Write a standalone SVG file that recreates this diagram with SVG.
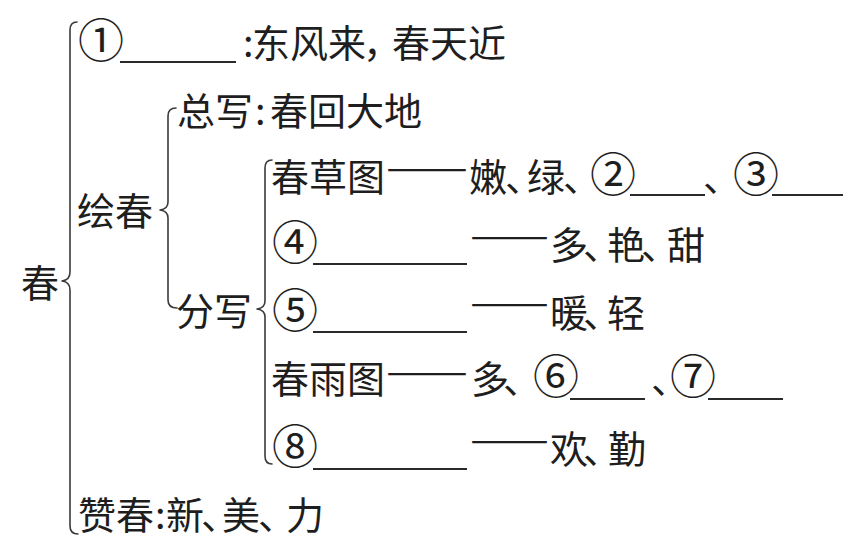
<svg xmlns="http://www.w3.org/2000/svg" width="848" height="552" viewBox="0 0 848 552">
<style>
text{font-family:"Noto Sans CJK SC","Noto Sans CJK JP",sans-serif;font-size:38px;fill:#1e1e1e}
.c{font-size:46px}
.p{font-feature-settings:"halt"}
.br{fill:none;stroke:#3a3a3a;stroke-width:1.6;stroke-linecap:round;stroke-linejoin:round}
.ul{stroke:#2a2a2a;stroke-width:1.8}
</style>
<rect width="848" height="552" fill="#fff"/>
<g id="connectors">
<path class="br" d="M77,22 Q70,22 70,30 L70,272 Q70,280 62,281 Q70,282 70,290 L70,526 Q70,534 78,534"/>
<path class="br" d="M176,108 Q168,108 168,116 L168,202 Q168,209 160,210 Q168,211 168,218 L168,300 Q168,308 177,308"/>
<path class="br" d="M272,160 Q265,160 265,168 L265,301 Q265,308 257,309 Q265,310 265,317 L265,456 Q265,464 272,464"/>
</g>
<g id="root"><text x="21" y="297">春</text></g>
<g id="n1">
<text y="57"><tspan class="c" x="78">①</tspan><tspan x="243">:</tspan><tspan x="252">东风来</tspan><tspan class="p" x="363">，</tspan><tspan x="392">春天近</tspan></text>
<line class="ul" x1="120" y1="62" x2="236" y2="62"/>
</g>
<g id="huichun"><text x="77" y="225">绘春</text></g>
<g id="zongxie"><text y="125"><tspan x="177">总写</tspan><tspan x="255">:</tspan><tspan x="270">春回大地</tspan></text></g>
<g id="fenxie"><text x="176" y="325">分写</text></g>
<g id="chuncaotu">
<text y="191"><tspan x="271">春草图</tspan><tspan x="469">嫩</tspan><tspan class="p" x="505">、</tspan><tspan x="527">绿</tspan><tspan class="p" x="563">、</tspan><tspan class="c" x="590">②</tspan><tspan class="p" x="703">、</tspan><tspan class="c" x="733">③</tspan></text>
<text x="386" y="181" textLength="82" lengthAdjust="spacingAndGlyphs">——</text>
<line class="ul" x1="630" y1="195" x2="705" y2="195"/>
<line class="ul" x1="772" y1="195" x2="843" y2="195"/>
</g>
<g id="n4">
<text y="259"><tspan class="c" x="272">④</tspan><tspan x="550">多</tspan><tspan class="p" x="583">、</tspan><tspan x="607">艳</tspan><tspan class="p" x="641">、</tspan><tspan x="667">甜</tspan></text>
<text x="470" y="249" textLength="79" lengthAdjust="spacingAndGlyphs">——</text>
<line class="ul" x1="313" y1="264" x2="467" y2="264"/>
</g>
<g id="n5">
<text y="327"><tspan class="c" x="272">⑤</tspan><tspan x="550">暖</tspan><tspan class="p" x="583">、</tspan><tspan x="607">轻</tspan></text>
<text x="470" y="316" textLength="79" lengthAdjust="spacingAndGlyphs">——</text>
<line class="ul" x1="313" y1="332" x2="467" y2="332"/>
</g>
<g id="chunyutu">
<text y="393"><tspan x="271">春雨图</tspan><tspan x="471">多</tspan><tspan class="p" x="503">、</tspan><tspan class="c" x="533">⑥</tspan><tspan class="p" x="651">、</tspan><tspan class="c" x="670">⑦</tspan></text>
<text x="386" y="385" textLength="82" lengthAdjust="spacingAndGlyphs">——</text>
<line class="ul" x1="570" y1="399" x2="645" y2="399"/>
<line class="ul" x1="708" y1="399" x2="783" y2="399"/>
</g>
<g id="n8">
<text y="463"><tspan class="c" x="272">⑧</tspan><tspan x="550">欢</tspan><tspan class="p" x="583">、</tspan><tspan x="608">勤</tspan></text>
<text x="470" y="453" textLength="79" lengthAdjust="spacingAndGlyphs">——</text>
<line class="ul" x1="313" y1="469" x2="467" y2="469"/>
</g>
<g id="zanchun"><text y="529"><tspan x="78">赞春</tspan><tspan x="155">:</tspan><tspan x="166">新</tspan><tspan class="p" x="201">、</tspan><tspan x="222">美</tspan><tspan class="p" x="258">、</tspan><tspan x="286">力</tspan></text></g>
</svg>
